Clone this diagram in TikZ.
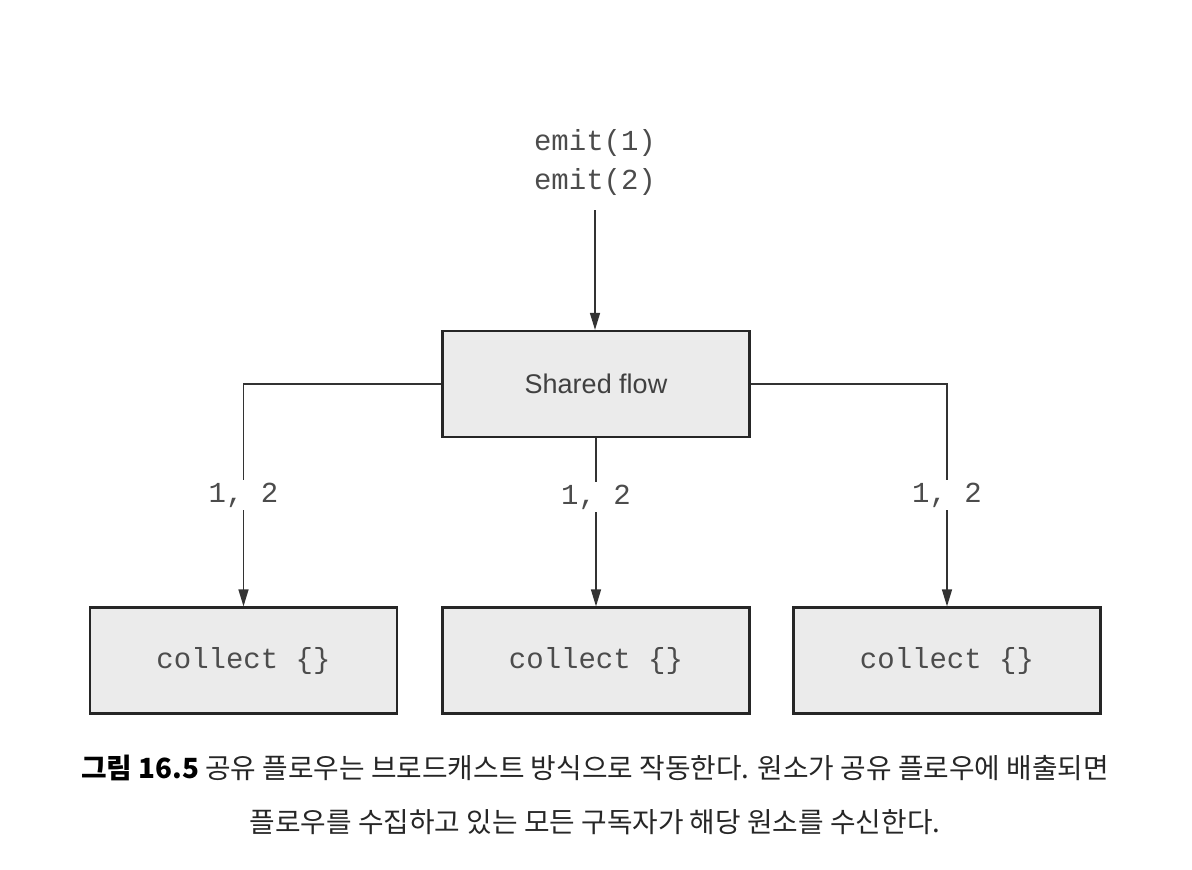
\documentclass[tikz,border=0pt]{standalone}
\usepackage{fontspec}
\setmainfont{Liberation Sans}
\setmonofont{Liberation Mono}
\newfontfamily\krfont{Noto Sans CJK KR}
\usetikzlibrary{arrows.meta,positioning}

\begin{document}
\begin{tikzpicture}[x=1pt,y=-1pt,>={Triangle[length=17pt,width=10pt]},
  box/.style={draw=black!85,line width=2.2pt,fill=black!8,
              minimum width=307pt,minimum height=106pt,inner sep=0pt},
  code/.style={font=\ttfamily\fontsize{29}{34}\selectfont,text=black!70},
  link/.style={line width=1.4pt,draw=black!80},
  lbl/.style={code,fill=white,inner sep=3pt},
  caption/.style={font=\krfont\fontsize{27.8}{32}\selectfont,text=black!85}]
  \useasboundingbox (0,0) rectangle (1192,870);

  % source of the emissions
  \node[code] (emit1) at (595,143) {emit(1)};
  \node[code] (emit2) at (595,182) {emit(2)};

  % shared flow and its collectors
  \node[box,font=\fontsize{27}{32}\selectfont,text=black!75] (shared) at (596,384) {Shared flow};
  \node[box,code] (coll1) at (243.5,660.5) {collect \{\}};
  \node[box,code] (coll2) at (596,660.5) {collect \{\}};
  \node[box,code] (coll3) at (947,660.5) {collect \{\}};

  \draw[link,->,shorten <=11pt] (emit2.south) -- (emit2.south |- shared.north);
  \draw[link,->] (shared.west) -| (coll1.north) node[lbl,pos=0.75] {1, 2};
  \draw[link,->] (shared.south) -- (coll2.north) node[lbl,pos=0.35] {1, 2};
  \draw[link,->] (shared.east) -| (coll3.north) node[lbl,pos=0.75] {1, 2};

  % caption
  \node[caption] (cap1) at (595,768)
    {\textbf{\color{black}그림 16.5} 공유 플로우는 브로드캐스트 방식으로 작동한다. 원소가 공유 플로우에 배출되면};
  \node[caption] (cap2) at (595,822)
    {플로우를 수집하고 있는 모든 구독자가 해당 원소를 수신한다.};
\end{tikzpicture}
\end{document}
